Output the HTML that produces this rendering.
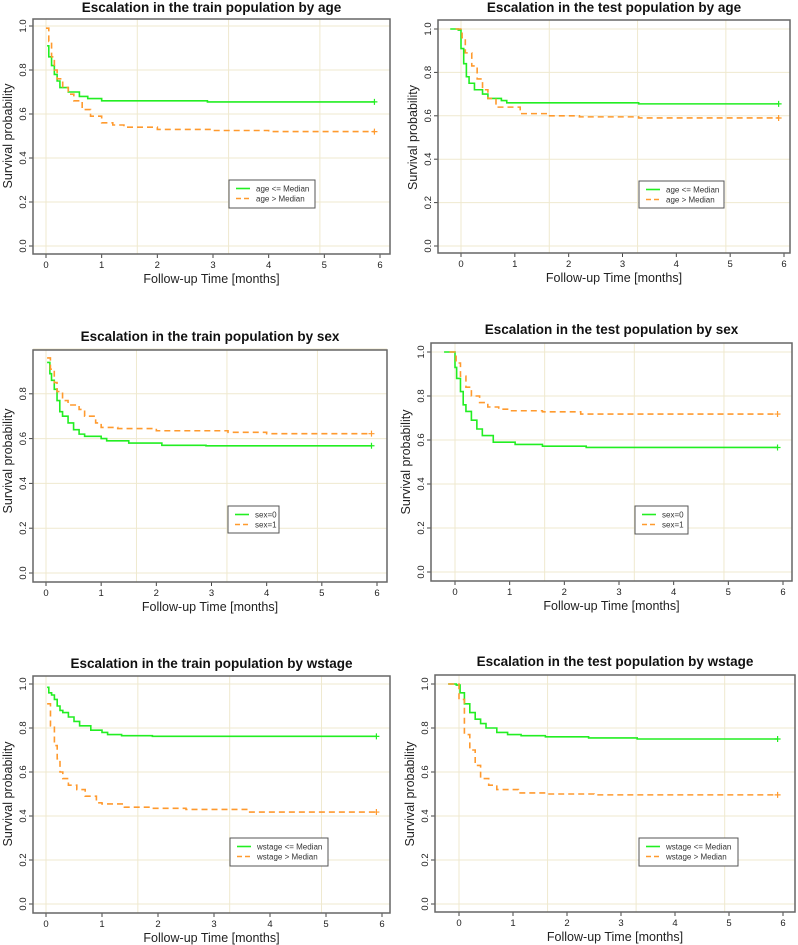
<!DOCTYPE html>
<html><head><meta charset="utf-8">
<style>
html,body{margin:0;padding:0;background:#fff;}
svg{display:block;font-family:"Liberation Sans",Arial,sans-serif;}
</style></head>
<body>
<svg id="c" width="798" height="945" viewBox="0 0 798 945"></svg>
<script>
// ---- data ----
const titles = ["Escalation in the train population by age","Escalation in the test population by age","Escalation in the train population by sex","Escalation in the test population by sex","Escalation in the train population by wstage","Escalation in the test population by wstage"];
const legendA = ["age  <= Median","age  <= Median","sex=0","sex=0","wstage  <= Median","wstage  <= Median"];
const legendB = ["age  > Median","age  > Median","sex=1","sex=1","wstage  > Median","wstage  > Median"];
const xTicks = [0,1,2,3,4,5,6];
const yTicksFull = ["0.0","0.2","0.4","0.6","0.8","1.0"];
const yTicksNo1 = ["0.0","0.2","0.4","0.6","0.8"];
const gridX = [0,1.64,3.28,4.92];
const gridY = [0,0.2,0.4,0.6,0.8,1.0];
const endTime = 5.9;
// group 1 (green) times / survival
const g1T = [
 [0.02,0.05,0.1,0.15,0.2,0.25,0.4,0.6,0.75,1.0,2.9],
 [-0.2,-0.05,0,0.05,0.1,0.15,0.25,0.4,0.5,0.75,0.85,3.3],
 [0.02,0.07,0.1,0.15,0.2,0.25,0.3,0.4,0.5,0.6,0.7,1.0,1.1,1.5,2.1,2.9],
 [-0.2,0,0.03,0.1,0.15,0.2,0.3,0.4,0.5,0.7,1.1,1.6,2.4],
 [0.02,0.05,0.1,0.15,0.2,0.25,0.3,0.4,0.5,0.6,0.8,1.0,1.1,1.35,1.9],
 [-0.2,-0.05,0.02,0.1,0.2,0.3,0.4,0.5,0.7,0.9,1.15,1.6,2.4,3.3]
];
const g1S = [
 [0.91,0.86,0.82,0.78,0.75,0.72,0.70,0.68,0.67,0.66,0.655],
 [1.0,0.995,0.91,0.84,0.78,0.75,0.72,0.70,0.68,0.67,0.66,0.655],
 [0.94,0.89,0.86,0.82,0.77,0.72,0.70,0.67,0.64,0.62,0.61,0.60,0.59,0.58,0.57,0.568],
 [1.0,0.93,0.88,0.82,0.76,0.73,0.69,0.65,0.62,0.59,0.58,0.572,0.566],
 [0.985,0.96,0.95,0.93,0.90,0.88,0.87,0.85,0.83,0.81,0.79,0.78,0.77,0.765,0.762],
 [1.0,0.995,0.96,0.91,0.87,0.84,0.82,0.80,0.78,0.77,0.765,0.76,0.755,0.75]
];
// group 2 (orange dashed)
const g2T = [
 [0,0.05,0.1,0.15,0.2,0.3,0.4,0.5,0.65,0.8,1.0,1.2,1.4,2.0,3.0,4.0],
 [-0.1,0.02,0.08,0.2,0.3,0.4,0.5,0.65,1.1,1.6,2.2,3.3],
 [0.02,0.08,0.15,0.2,0.3,0.4,0.6,0.7,0.9,1.0,1.3,2.0,3.3,4.0],
 [-0.1,0.02,0.1,0.2,0.3,0.45,0.6,0.8,1.0,1.6,2.3],
 [0.02,0.08,0.15,0.2,0.25,0.3,0.4,0.55,0.7,0.9,1.0,1.4,1.9,2.5,3.6],
 [-0.2,0,0.1,0.2,0.3,0.4,0.55,0.7,1.1,1.6,2.5]
];
const g2S = [
 [0.99,0.93,0.86,0.80,0.76,0.72,0.69,0.66,0.62,0.59,0.56,0.55,0.54,0.53,0.525,0.52],
 [1.0,0.96,0.89,0.83,0.77,0.72,0.68,0.64,0.61,0.60,0.595,0.59],
 [0.96,0.91,0.85,0.81,0.77,0.75,0.73,0.70,0.67,0.65,0.645,0.635,0.628,0.622],
 [1.0,0.95,0.89,0.84,0.80,0.77,0.75,0.74,0.733,0.728,0.718],
 [0.91,0.81,0.72,0.66,0.60,0.57,0.54,0.52,0.49,0.46,0.455,0.44,0.435,0.43,0.418],
 [1.0,0.93,0.77,0.70,0.63,0.57,0.54,0.52,0.505,0.50,0.496]
];
// ---- layout (pixel geometry) ----
const P = [
 {bx:33,by:19,bw:357,bh:235,x0:46,x6:380,y0:246,y1:26,ty:12,ly:[180,208],lx:[229,315],yt:1},
 {bx:438,by:20,bw:352,bh:233,x0:461,x6:784,y0:246,y1:29,ty:12,ly:[181,208],lx:[639,724],yt:1},
 {bx:33,by:350,bw:354,bh:232,x0:46,x6:377,y0:573,y1:349,ty:341,ly:[506,533],lx:[228,279],yt:0},
 {bx:431,by:343,bw:361,bh:238,x0:455,x6:783,y0:572,y1:352,ty:334,ly:[506,534],lx:[635,688],yt:1},
 {bx:33,by:676,bw:357,bh:237,x0:46,x6:382,y0:904,y1:684,ty:668,ly:[838,866],lx:[230,328],yt:1},
 {bx:435,by:675,bw:360,bh:237,x0:459,x6:783,y0:904,y1:684,ty:666,ly:[838,866],lx:[639,738],yt:1}
];
const NS="http://www.w3.org/2000/svg";
const svg=document.getElementById('c');
function mk(tag,attrs,parent){const e=document.createElementNS(NS,tag);for(const k in attrs)e.setAttribute(k,attrs[k]);parent.appendChild(e);return e;}
const GREEN="#22ee22", ORANGE="#ff9a2e";
P.forEach((p,i)=>{
  const g=mk('g',{},svg);
  
  
  const sx=t=>p.x0+(t)*(p.x6-p.x0)/6;
  const sy=v=>p.y0-(v)*(p.y0-p.y1);
  // grid
  gridX.forEach(v=>{const l=mk('line',{x1:sx(v),x2:sx(v),y1:p.by,y2:p.by+p.bh,stroke:"#efe9cf","stroke-width":1},g);
    });
  gridY.forEach(v=>{const l=mk('line',{x1:p.bx,x2:p.bx+p.bw,y1:sy(v),y2:sy(v),stroke:"#efe9cf","stroke-width":1},g);
    });
  // title
  const t=mk('text',{x:p.bx+p.bw/2,y:p.ty,"text-anchor":"middle","font-size":"13.5","font-weight":"bold",fill:"#111"},g);
  t.textContent=titles[i];
  
  
  // x ticks
  xTicks.forEach(v=>{
    mk('line',{x1:sx(v),x2:sx(v),y1:p.by+p.bh,y2:p.by+p.bh+4,stroke:"#444"},g);
    const tx=mk('text',{x:sx(v),y:p.by+p.bh+14,"text-anchor":"middle","font-size":"9.5",fill:"#222"},g);
    tx.textContent=v;
    
    
  });
  const yt=p.yt?yTicksFull:yTicksNo1;
  yt.forEach(s=>{
    const v=parseFloat(s);
    mk('line',{x1:p.bx-4,x2:p.bx,y1:sy(v),y2:sy(v),stroke:"#444"},g);
    const ty=mk('text',{x:0,y:0,"text-anchor":"middle","font-size":"9.5",fill:"#222",transform:`translate(${p.bx-7},${sy(v)}) rotate(-90)`},g);
    ty.textContent=s;
    
    
  });
  const xl=mk('text',{x:p.bx+p.bw/2,y:p.by+p.bh+29,"text-anchor":"middle","font-size":"12.5",fill:"#222"},g);
  xl.textContent="Follow-up Time [months]";
  
  
  const yl=mk('text',{x:0,y:0,"text-anchor":"middle","font-size":"12.5",fill:"#222",transform:`translate(${p.bx-21},${(p.y0+p.y1)/2}) rotate(-90)`},g);
  yl.textContent="Survival probability";
  
  
  // curves
  function step(T,S){let d=`M${sx(T[0])},${sy(S[0])}`;for(let k=1;k<T.length;k++){d+=`H${sx(T[k])}V${sy(S[k])}`;}d+=`H${sx(endTime)}`;return d;}
  const c1=mk('path',{d:step(g1T[i],g1S[i]),fill:"none",stroke:GREEN,"stroke-width":1.6},g);
  
  
  const c2=mk('path',{d:step(g2T[i],g2S[i]),fill:"none",stroke:ORANGE,"stroke-width":1.6,"stroke-dasharray":"6,4"},g);
  
  
  [[g1S[i],GREEN],[g2S[i],ORANGE]].forEach(([S,col])=>{
    const yv=sy(S[S.length-1]),xv=sx(endTime);
    const cm=mk('path',{d:`M${xv-3},${yv}H${xv+3}M${xv},${yv-3}V${yv+3}`,stroke:col,"stroke-width":1.2},g);
    
    
  });
  // box
  const bx=mk('rect',{x:p.bx,y:p.by,width:p.bw,height:p.bh,fill:"none",stroke:"#666","stroke-width":1.5},g);
  
  
  // legend
  const lg=mk('g',{},g);
  
  
  mk('rect',{x:p.lx[0],y:p.ly[0],width:p.lx[1]-p.lx[0],height:p.ly[1]-p.ly[0],fill:"#fff",stroke:"#555","stroke-width":1},lg);
  const r1=p.ly[0]+8.5,r2=p.ly[0]+18.5;
  mk('line',{x1:p.lx[0]+7,x2:p.lx[0]+21,y1:r1,y2:r1,stroke:GREEN,"stroke-width":1.6},lg);
  mk('line',{x1:p.lx[0]+7,x2:p.lx[0]+21,y1:r2,y2:r2,stroke:ORANGE,"stroke-width":1.6,"stroke-dasharray":"5,3"},lg);
  const a=mk('text',{x:p.lx[0]+27,y:r1+3,"font-size":"8",fill:"#333"},lg);a.textContent=legendA[i];
  
  
  const b=mk('text',{x:p.lx[0]+27,y:r2+3,"font-size":"8",fill:"#333"},lg);b.textContent=legendB[i];
  
  
});
</script>
</body></html>
